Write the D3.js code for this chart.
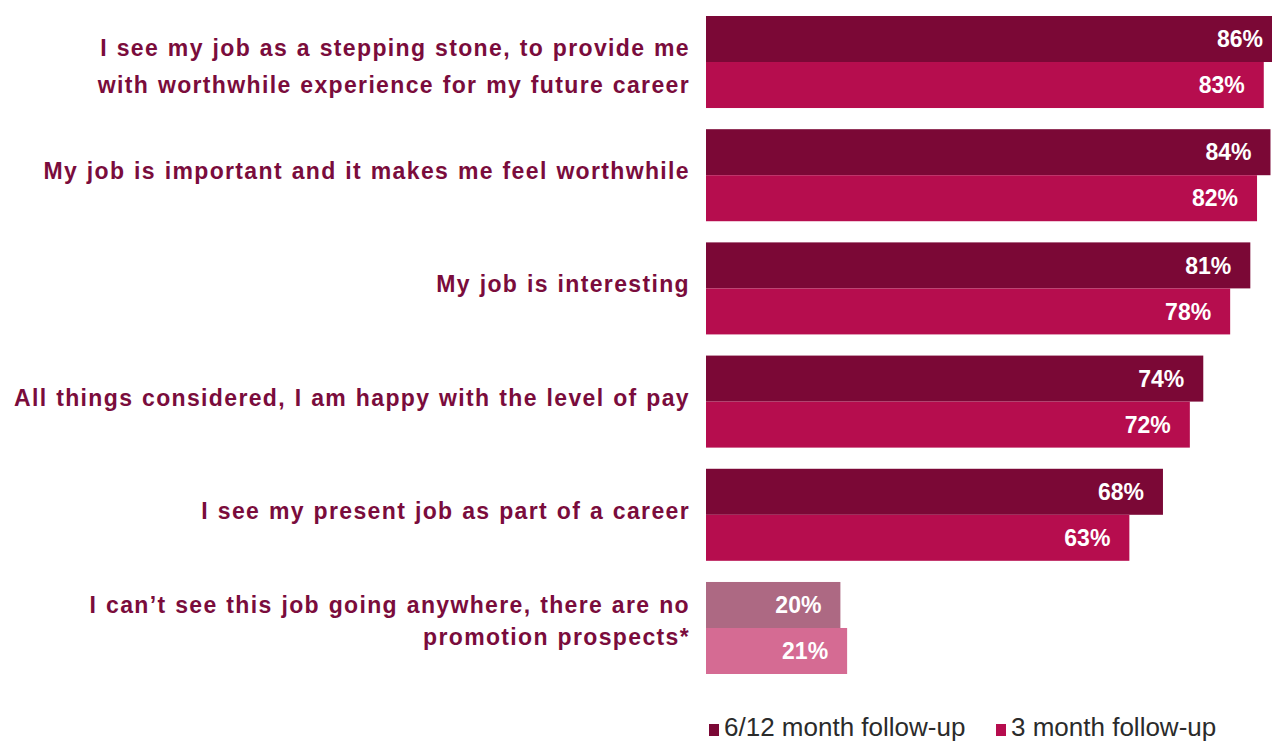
<!DOCTYPE html>
<html>
<head>
<meta charset="utf-8">
<script src="https://cdn.jsdelivr.net/npm/d3@7"></script>
<style>
  html, body { margin: 0; padding: 0; background: #fff; }
  svg { display: block; }
</style>
</head>
<body>
<svg id="chart" width="1272" height="742"></svg>
<script>
// Survey statements (each may span several lines)
const categories = [
  ["I see my job as a stepping stone, to provide me", "with worthwhile experience for my future career"],
  ["My job is important and it makes me feel worthwhile"],
  ["My job is interesting"],
  ["All things considered, I am happy with the level of pay"],
  ["I see my present job as part of a career"],
  ["I can\u2019t see this job going anywhere, there are no", "promotion prospects*"]
];
const seriesNames = ["6/12 month follow-up", "3 month follow-up"];
const followUp612 = [86, 84, 81, 74, 68, 20];
const followUp3   = [83, 82, 78, 72, 63, 21];
const seriesValues = [followUp612, followUp3];

const seriesColors = ["#7b0836", "#b60d4e"];
const mutedColors  = ["#ad6983", "#d56b93"]; // negative statement shown lighter
const mutedIndex = 5;

// label layout: baseline of first line relative to band centre, and line spacing
const labelLayout = [
  { first: -6, step: 36.5 },
  { first: 4, step: 0 },
  { first: 4, step: 0 },
  { first: 4, step: 0 },
  { first: 4, step: 0 },
  { first: -15, step: 32 }
];

const svg = d3.select("#chart");
const labelColor = "#7a0c3c";
const sans = "'Liberation Sans', Arial, sans-serif";

const x = d3.scaleLinear().domain([0, 100]).range([706, 706 + 672]);
const y = d3.scaleBand()
  .domain(d3.range(categories.length))
  .range([16, 674])
  .paddingInner(0.187)
  .paddingOuter(0);
const ySub = d3.scaleBand()
  .domain(d3.range(seriesNames.length))
  .range([0, y.bandwidth()]);

const rows = [];
categories.forEach((c, i) => {
  seriesValues.forEach((vals, s) => {
    rows.push({ cat: i, s, value: vals[i] });
  });
});

const barFill = d => (d.cat === mutedIndex ? mutedColors : seriesColors)[d.s];

svg.append("g").selectAll("rect")
  .data(rows)
  .join("rect")
  .attr("x", x(0))
  .attr("y", d => y(d.cat) + ySub(d.s))
  .attr("width", d => x(d.value) - x(0))
  .attr("height", ySub.bandwidth())
  .attr("fill", barFill);

// value labels inside bar ends
svg.append("g").selectAll("text")
  .data(rows)
  .join("text")
  .attr("x", d => Math.min(x(d.value), 1282) - 19)
  .attr("y", d => y(d.cat) + ySub(d.s) + ySub.bandwidth() / 2)
  .attr("dy", "0.36em")
  .attr("text-anchor", "end")
  .attr("fill", "#ffffff")
  .attr("font-family", sans)
  .attr("font-weight", "bold")
  .attr("font-size", 23)
  .text(d => d.value + "%");

// category labels
const lab = svg.append("g").selectAll("text")
  .data(categories)
  .join("text")
  .attr("text-anchor", "end")
  .attr("fill", labelColor)
  .attr("font-family", sans)
  .attr("font-weight", "bold")
  .attr("font-size", 23)
  .attr("letter-spacing", "1.35px")
  .attr("word-spacing", "1px");
lab.each(function (lines, i) {
  const cy = y(i) + y.bandwidth() / 2;
  const lay = labelLayout[i];
  d3.select(this).selectAll("tspan")
    .data(lines)
    .join("tspan")
    .attr("x", 690)
    .attr("y", (l, k) => cy + lay.first + k * lay.step)
    .text(l => l);
});

// legend
const legend = svg.append("g");
const legendX = [709, 996];
seriesNames.forEach((name, s) => {
  legend.append("rect")
    .attr("x", legendX[s])
    .attr("y", 724)
    .attr("width", 10)
    .attr("height", 12)
    .attr("fill", seriesColors[s]);
  legend.append("text")
    .attr("x", legendX[s] + 15)
    .attr("y", 736)
    .attr("fill", "#2b2b2b")
    .attr("font-family", sans)
    .attr("font-size", 26)
    .text(name);
});
</script>
</body>
</html>
